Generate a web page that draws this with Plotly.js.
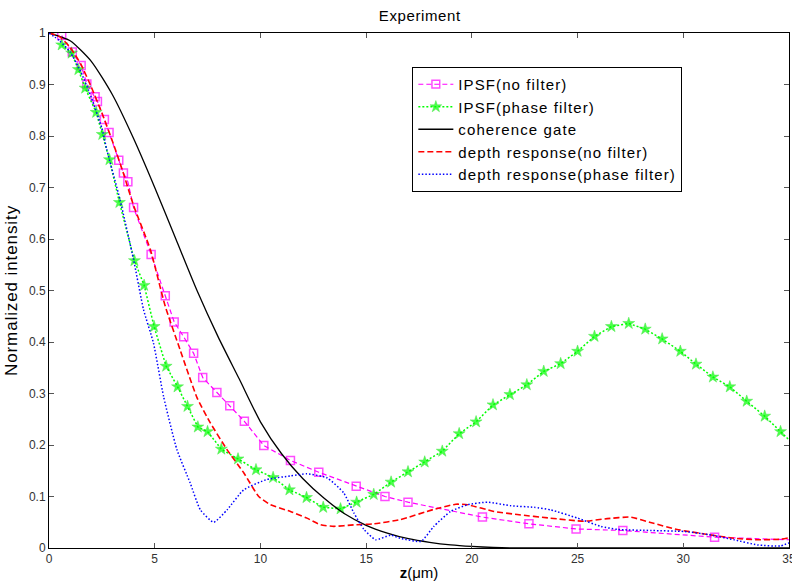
<!DOCTYPE html>
<html>
<head>
<meta charset="utf-8">
<script src="https://cdn.plot.ly/plotly-3.0.1.min.js"></script>
<style>
html,body{margin:0;padding:0;background:#fff;}
#chart{width:792px;height:581px;}
.legendtext{letter-spacing:1.1px;}
.gtitle{letter-spacing:0.6px;}
.ytitle{letter-spacing:0.9px;}
</style>
</head>
<body>
<div id="chart"></div>
<script>
// IPSF (no filter)
const zIpsfNo = [0.6, 1.1, 1.52, 1.79, 2.18, 2.29, 2.62, 2.84, 3.30, 3.52, 3.73, 4.0, 4.83, 5.5, 5.92, 6.37, 6.84, 7.27, 7.94, 8.55, 9.24, 10.16, 11.42, 12.76, 14.53, 15.89, 16.98, 20.5, 22.7, 24.93, 27.14, 31.48, 35];
const yIpsfNo = [0.995, 0.963, 0.937, 0.901, 0.876, 0.867, 0.832, 0.807, 0.753, 0.728, 0.711, 0.661, 0.570, 0.490, 0.439, 0.410, 0.378, 0.331, 0.302, 0.276, 0.246, 0.199, 0.170, 0.147, 0.120, 0.100, 0.089, 0.060, 0.047, 0.037, 0.034, 0.021, 0.016];
// IPSF (phase filter)
const zIpsfPh = [0.6, 1.07, 1.39, 1.71, 2.23, 2.52, 2.86, 3.33, 4.04, 4.50, 4.97, 5.54, 6.08, 6.55, 7.04, 7.50, 8.15, 8.94, 9.79, 10.6, 11.37, 12.18, 12.97, 13.79, 14.55, 15.36, 16.18, 16.98, 17.77, 18.6, 19.4, 20.2, 21.0, 21.8, 22.6, 23.4, 24.2, 25.0, 25.8, 26.6, 27.42, 28.2, 29.0, 29.86, 30.6, 31.4, 32.2, 33.0, 33.85, 34.6, 35];
const yIpsfPh = [0.977, 0.961, 0.929, 0.893, 0.846, 0.803, 0.754, 0.671, 0.558, 0.510, 0.430, 0.353, 0.313, 0.275, 0.235, 0.226, 0.192, 0.173, 0.152, 0.137, 0.113, 0.098, 0.079, 0.076, 0.089, 0.104, 0.128, 0.148, 0.167, 0.188, 0.222, 0.245, 0.278, 0.298, 0.317, 0.343, 0.358, 0.382, 0.411, 0.430, 0.436, 0.425, 0.406, 0.382, 0.357, 0.332, 0.313, 0.285, 0.256, 0.226, 0.21];
// coherence gate
const zGate = [0, 1, 2, 3, 4, 5, 6, 7, 8, 9, 10, 11, 12, 13, 14, 15, 16, 17, 18, 19, 20, 21, 22, 35];
const yGate = [1, 0.985, 0.945, 0.88, 0.795, 0.70, 0.60, 0.50, 0.41, 0.328, 0.245, 0.183, 0.135, 0.097, 0.066, 0.044, 0.029, 0.018, 0.011, 0.006, 0.003, 0.001, 0, 0];
// depth response (no filter)
const zDepthNo = [0, 0.5, 1, 1.5, 2, 2.5, 3, 3.5, 4, 4.79, 5.5, 6.2, 7.0, 7.63, 8.42, 9.21, 9.92, 10.47, 11.42, 12.2, 12.85, 13.47, 14.42, 15.36, 16.6, 18.2, 19.24, 19.8, 21.05, 22.15, 23.7, 25.3, 26.4, 27.5, 28.5, 29.7, 31.2, 32.4, 33.5, 34.6, 35];
const yDepthNo = [1, 0.993, 0.972, 0.94, 0.895, 0.845, 0.79, 0.73, 0.665, 0.58, 0.469, 0.385, 0.292, 0.243, 0.191, 0.146, 0.100, 0.084, 0.071, 0.058, 0.045, 0.042, 0.045, 0.047, 0.055, 0.075, 0.085, 0.084, 0.071, 0.065, 0.058, 0.052, 0.057, 0.060, 0.049, 0.036, 0.026, 0.019, 0.016, 0.017, 0.02];
// depth response (phase filter)
const zDepthPh = [0, 0.5, 1, 1.5, 2, 2.5, 2.73, 3.36, 4.0, 4.47, 4.94, 5.42, 6.05, 6.68, 7.16, 7.79, 8.42, 9.21, 10.3, 11.42, 12.2, 13.16, 13.94, 14.42, 14.9, 15.45, 16.16, 16.6, 17.6, 18.2, 19.0, 19.8, 20.74, 21.85, 22.95, 23.74, 25.0, 26.1, 26.9, 28.5, 30.06, 31.2, 32.4, 33.5, 34.6, 35];
const yDepthPh = [1, 0.985, 0.963, 0.925, 0.875, 0.815, 0.774, 0.676, 0.560, 0.463, 0.398, 0.294, 0.191, 0.126, 0.074, 0.050, 0.074, 0.113, 0.133, 0.140, 0.144, 0.136, 0.107, 0.068, 0.036, 0.016, 0.025, 0.019, 0.013, 0.042, 0.071, 0.084, 0.089, 0.082, 0.079, 0.074, 0.058, 0.042, 0.036, 0.034, 0.032, 0.026, 0.016, 0.006, 0.004, 0.01];

const xTicks = [0, 5, 10, 15, 20, 25, 30, 35];
const yTicks = [0, 0.1, 0.2, 0.3, 0.4, 0.5, 0.6, 0.7, 0.8, 0.9, 1];
const yTickText = ['0', '0.1', '0.2', '0.3', '0.4', '0.5', '0.6', '0.7', '0.8', '0.9', '1'];

function sizes(arr, s) { return arr.map((v, i) => (i === arr.length - 1 ? 0 : s)); }

const traces = [
  {x: zIpsfNo, y: yIpsfNo, name: 'IPSF(no filter)', mode: 'lines+markers',
   line: {color: '#ff00ff', width: 1.2, dash: '5px,3px'},
   marker: {symbol: 'square-open', size: sizes(zIpsfNo, 8), color: '#ff00ff', line: {width: 1.5, color: '#ff00ff'}}},
  {x: zIpsfPh, y: yIpsfPh, name: 'IPSF(phase filter)', mode: 'lines+markers',
   line: {color: '#00ff00', width: 1.5, dash: '2px,2px'},
   marker: {symbol: 'star', size: sizes(zIpsfPh, 9), color: '#00ff00', line: {width: 0.5, color: '#00dd00'}}},
  {x: zGate, y: yGate, name: 'coherence gate', mode: 'lines',
   line: {color: '#000000', width: 1.3, shape: 'spline', smoothing: 0.6}},
  {x: zDepthNo, y: yDepthNo, name: 'depth response(no filter)', mode: 'lines',
   line: {color: '#ff0000', width: 1.6, dash: '6px,3px', shape: 'spline', smoothing: 0.5}},
  {x: zDepthPh, y: yDepthPh, name: 'depth response(phase filter)', mode: 'lines',
   line: {color: '#0000ff', width: 1.5, dash: '1.5px,2px', shape: 'spline', smoothing: 0.5}}
];

const axisCommon = {
  showline: true, linecolor: '#000', linewidth: 1, mirror: 'ticks',
  ticks: 'inside', ticklen: 5, tickcolor: '#555', showgrid: false, zeroline: false,
  ticklabeloverflow: 'allow',
  tickfont: {family: 'Liberation Sans, Arial, sans-serif', size: 12, color: '#333'}
};

const layout = {
  width: 792, height: 581,
  margin: {l: 49, r: 3, t: 33, b: 33},
  paper_bgcolor: '#fff', plot_bgcolor: '#fff',
  font: {family: 'Liberation Sans, Arial, sans-serif', color: '#000'},
  title: {text: 'Experiment', x: 0.53, xanchor: 'center', y: 0.982, yanchor: 'top', font: {size: 15, color: '#000'}},
  xaxis: Object.assign({}, axisCommon, {range: [0, 35], tickvals: xTicks, ticktext: xTicks.map(String),
    title: {text: '<b>z</b>(μm)', standoff: 3, font: {size: 15, color: '#000'}}}),
  yaxis: Object.assign({}, axisCommon, {range: [0, 1], tickvals: yTicks, ticktext: yTickText,
    title: {text: 'Normalized intensity', standoff: 6, font: {size: 17, color: '#000'}}}),
  showlegend: true,
  legend: {x: 0.491, y: 0.934, xanchor: 'left', yanchor: 'top', bgcolor: '#fff', bordercolor: '#000', borderwidth: 1,
    font: {size: 15, color: '#000'}, tracegroupgap: 0, itemwidth: 35}
};

Plotly.newPlot('chart', traces, layout, {staticPlot: true});
</script>
</body>
</html>
